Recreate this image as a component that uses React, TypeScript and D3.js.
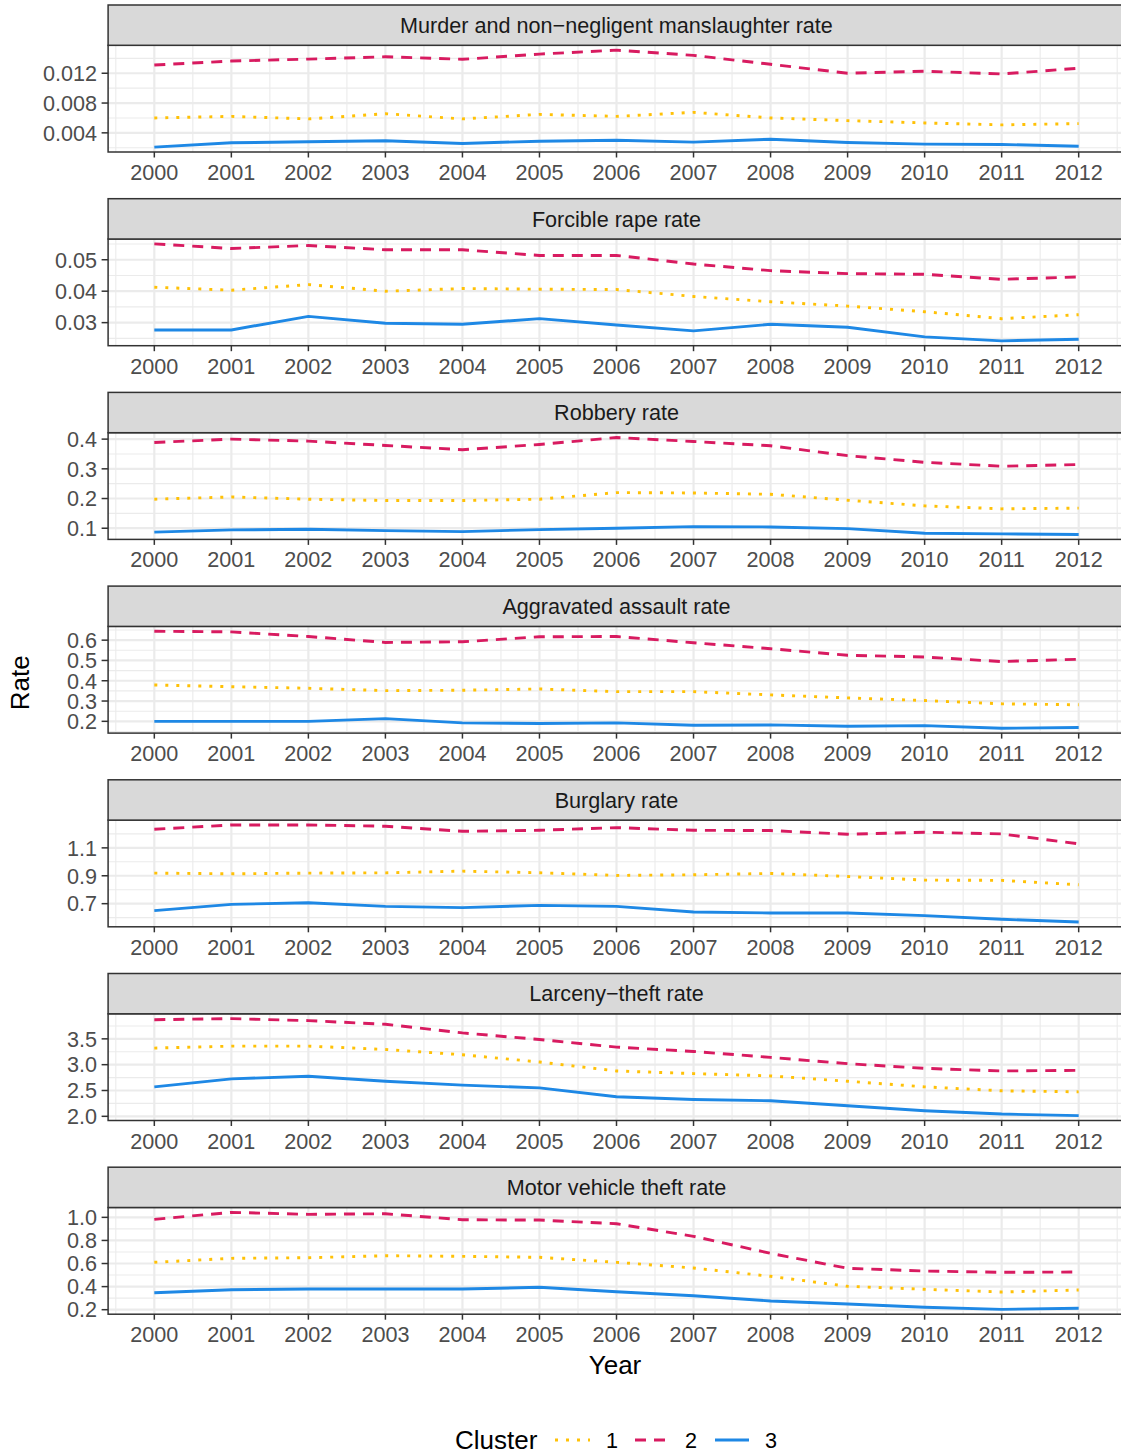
import React from "react";
import * as d3 from "d3";

const years = [2000, 2001, 2002, 2003, 2004, 2005, 2006, 2007, 2008, 2009, 2010, 2011, 2012];

const panelTitles = [
  "Murder and non\u2212negligent manslaughter rate",
  "Forcible rape rate",
  "Robbery rate",
  "Aggravated assault rate",
  "Burglary rate",
  "Larceny\u2212theft rate",
  "Motor vehicle theft rate",
];

// Murder
const murderC1 = [0.0060, 0.00621, 0.00587, 0.00657, 0.00587, 0.00648, 0.00621, 0.00675, 0.0060, 0.00564, 0.00533, 0.00507, 0.00524];
const murderC2 = [0.0131, 0.01364, 0.0139, 0.01421, 0.01387, 0.01457, 0.0151, 0.0144, 0.0132, 0.0120, 0.01227, 0.0119, 0.01267];
const murderC3 = [0.00208, 0.00267, 0.0028, 0.00293, 0.00257, 0.00288, 0.00301, 0.00275, 0.00315, 0.00271, 0.00248, 0.00244, 0.00221];
// Forcible rape
const rapeC1 = [0.04126, 0.04032, 0.0421, 0.0400, 0.04084, 0.04063, 0.04053, 0.03832, 0.03664, 0.03526, 0.03347, 0.03126, 0.03253];
const rapeC2 = [0.05505, 0.05357, 0.05452, 0.05316, 0.05316, 0.05136, 0.05136, 0.04864, 0.04653, 0.04558, 0.04536, 0.04378, 0.04453];
const rapeC3 = [0.02768, 0.02768, 0.0320, 0.02979, 0.02948, 0.03126, 0.02926, 0.02737, 0.02948, 0.02853, 0.02547, 0.02421, 0.02474];
// Robbery
const robberyC1 = [0.1977, 0.2053, 0.1977, 0.1933, 0.1933, 0.1977, 0.2200, 0.2187, 0.2143, 0.1943, 0.1753, 0.1653, 0.1677];
const robberyC2 = [0.3887, 0.4000, 0.3933, 0.3787, 0.3643, 0.3820, 0.4053, 0.3920, 0.3777, 0.3443, 0.3220, 0.3087, 0.3143];
const robberyC3 = [0.0867, 0.0943, 0.0967, 0.0920, 0.0887, 0.0953, 0.1000, 0.1053, 0.1043, 0.0987, 0.0833, 0.0810, 0.0787];
// Aggravated assault
const assaultC1 = [0.379, 0.3707, 0.3629, 0.3512, 0.3532, 0.3595, 0.3463, 0.3463, 0.3302, 0.3156, 0.3024, 0.2863, 0.2815];
const assaultC2 = [0.6439, 0.6407, 0.618, 0.5888, 0.592, 0.6166, 0.618, 0.5873, 0.558, 0.5254, 0.517, 0.4946, 0.5059];
const assaultC3 = [0.2, 0.2, 0.2, 0.2132, 0.1922, 0.189, 0.1922, 0.1805, 0.1824, 0.1756, 0.179, 0.1659, 0.1693];
// Burglary
const burglaryC1 = [0.919, 0.914, 0.919, 0.921, 0.9333, 0.9214, 0.9024, 0.907, 0.9167, 0.895, 0.869, 0.867, 0.8357];
const burglaryC2 = [1.2333, 1.2643, 1.2643, 1.255, 1.219, 1.2262, 1.245, 1.226, 1.224, 1.198, 1.212, 1.2, 1.1286];
const burglaryC3 = [0.65, 0.695, 0.707, 0.681, 0.6714, 0.688, 0.681, 0.6405, 0.6333, 0.6333, 0.614, 0.588, 0.569];
// Larceny-theft
const larcenyC1 = [3.321, 3.359, 3.359, 3.295, 3.192, 3.051, 2.878, 2.827, 2.782, 2.679, 2.571, 2.494, 2.474];
const larcenyC2 = [3.871, 3.891, 3.853, 3.782, 3.615, 3.487, 3.34, 3.256, 3.141, 3.019, 2.929, 2.878, 2.891];
const larcenyC3 = [2.571, 2.725, 2.776, 2.679, 2.603, 2.551, 2.378, 2.327, 2.301, 2.205, 2.109, 2.044, 2.013];
// Motor vehicle theft
const motorC1 = [0.6104, 0.645, 0.6502, 0.6675, 0.6623, 0.6537, 0.6104, 0.561, 0.4892, 0.4026, 0.3766, 0.3532, 0.3706];
const motorC2 = [0.9827, 1.0433, 1.026, 1.0312, 0.979, 0.9766, 0.9446, 0.8355, 0.6883, 0.5584, 0.5351, 0.5238, 0.5264];
const motorC3 = [0.3472, 0.3732, 0.3792, 0.3792, 0.3792, 0.3939, 0.3558, 0.3212, 0.2753, 0.2494, 0.2208, 0.203, 0.2121];

const murderTicks = [0.004, 0.008, 0.012];
const murderTickLabels = ["0.004", "0.008", "0.012"];
const rapeTicks = [0.03, 0.04, 0.05];
const rapeTickLabels = ["0.03", "0.04", "0.05"];
const robberyTicks = [0.1, 0.2, 0.3, 0.4];
const robberyTickLabels = ["0.1", "0.2", "0.3", "0.4"];
const assaultTicks = [0.2, 0.3, 0.4, 0.5, 0.6];
const assaultTickLabels = ["0.2", "0.3", "0.4", "0.5", "0.6"];
const burglaryTicks = [0.7, 0.9, 1.1];
const burglaryTickLabels = ["0.7", "0.9", "1.1"];
const larcenyTicks = [2.0, 2.5, 3.0, 3.5];
const larcenyTickLabels = ["2.0", "2.5", "3.0", "3.5"];
const motorTicks = [0.2, 0.4, 0.6, 0.8, 1.0];
const motorTickLabels = ["0.2", "0.4", "0.6", "0.8", "1.0"];

const clusterLabels = ["1", "2", "3"];
const clusterColors = ["#FFC107", "#D81B60", "#1E88E5"];
const clusterDash = ["3,8", "11,8", null];

const panels = [
  { title: panelTitles[0], series: [murderC1, murderC2, murderC3], ticks: murderTicks, labels: murderTickLabels },
  { title: panelTitles[1], series: [rapeC1, rapeC2, rapeC3], ticks: rapeTicks, labels: rapeTickLabels },
  { title: panelTitles[2], series: [robberyC1, robberyC2, robberyC3], ticks: robberyTicks, labels: robberyTickLabels },
  { title: panelTitles[3], series: [assaultC1, assaultC2, assaultC3], ticks: assaultTicks, labels: assaultTickLabels },
  { title: panelTitles[4], series: [burglaryC1, burglaryC2, burglaryC3], ticks: burglaryTicks, labels: burglaryTickLabels },
  { title: panelTitles[5], series: [larcenyC1, larcenyC2, larcenyC3], ticks: larcenyTicks, labels: larcenyTickLabels },
  { title: panelTitles[6], series: [motorC1, motorC2, motorC3], ticks: motorTicks, labels: motorTickLabels },
];

const W = 1121;
const H = 1456;
const FONT = "'Liberation Sans', Arial, Helvetica, sans-serif";
const SMALL = 21.6;
const BIG = 26;
const LEFT = 108.1;
const RIGHT = 1124.9;
const FIRST_STRIP = 5;
const PERIOD = 193.7;
const STRIP_H = 40.3;
const PANEL_BOTTOM_OFF = 147;
const GRID = "#EBEBEB";
const DARK = "#333333";

const x = d3.scaleLinear().domain([1999.4, 2012.6]).range([LEFT, RIGHT]);
const xMinor = d3.range(1999.5, 2012.6, 1);

function Panel({ p, i }: { p: any; i: number }) {
  const sTop = FIRST_STRIP + i * PERIOD;
  const pTop = sTop + STRIP_H;
  const pBot = sTop + PANEL_BOTTOM_OFF;
  const all = p.series.flat();
  const [mn, mx] = d3.extent(all) as [number, number];
  const pad = (mx - mn) * 0.05;
  const y = d3.scaleLinear().domain([mn - pad, mx + pad]).range([pBot, pTop]);
  const step = p.ticks[1] - p.ticks[0];
  const minors: number[] = [];
  for (let k = -1; k < p.ticks.length; k++) {
    const v = p.ticks[0] + step * k + step / 2;
    if (v >= mn - pad && v <= mx + pad) minors.push(v);
  }
  const line = d3
    .line<number>()
    .x((_, j) => x(years[j]))
    .y((d) => y(d));
  const clipId = `clip${i}`;
  return (
    <g>
      <defs>
        <clipPath id={clipId}>
          <rect x={LEFT} y={pTop} width={RIGHT - LEFT} height={pBot - pTop} />
        </clipPath>
      </defs>
      <rect x={LEFT} y={pTop} width={RIGHT - LEFT} height={pBot - pTop} fill="#FFFFFF" />
      <g clipPath={`url(#${clipId})`}>
        {minors.map((v, k) => (
          <line key={"ym" + k} x1={LEFT} x2={RIGHT} y1={y(v)} y2={y(v)} stroke={GRID} strokeWidth={1.1} />
        ))}
        {xMinor.map((v, k) => (
          <line key={"xm" + k} x1={x(v)} x2={x(v)} y1={pTop} y2={pBot} stroke={GRID} strokeWidth={1.1} />
        ))}
        {p.ticks.map((v: number, k: number) => (
          <line key={"yM" + k} x1={LEFT} x2={RIGHT} y1={y(v)} y2={y(v)} stroke={GRID} strokeWidth={2.2} />
        ))}
        {years.map((v, k) => (
          <line key={"xM" + k} x1={x(v)} x2={x(v)} y1={pTop} y2={pBot} stroke={GRID} strokeWidth={2.2} />
        ))}
        {p.series.map((s: number[], k: number) => (
          <path
            key={"s" + k}
            d={line(s) || ""}
            fill="none"
            stroke={clusterColors[k]}
            strokeWidth={2.9}
            strokeDasharray={clusterDash[k] || undefined}
          />
        ))}
      </g>
      <rect x={LEFT} y={pTop} width={RIGHT - LEFT} height={pBot - pTop} fill="none" stroke={DARK} strokeWidth={1.5} />
      <rect x={LEFT} y={sTop} width={RIGHT - LEFT} height={STRIP_H} fill="#D9D9D9" stroke={DARK} strokeWidth={1.5} />
      <text
        x={(LEFT + RIGHT) / 2}
        y={sTop + STRIP_H / 2}
        dy="0.36em"
        textAnchor="middle"
        fontSize={SMALL}
        fill="#1A1A1A"
        fontFamily={FONT}
      >
        {p.title}
      </text>
      {p.ticks.map((v: number, k: number) => (
        <g key={"yt" + k}>
          <line x1={LEFT - 6.5} x2={LEFT} y1={y(v)} y2={y(v)} stroke={DARK} strokeWidth={1.5} />
          <text x={LEFT - 11} y={y(v)} dy="0.36em" textAnchor="end" fontSize={SMALL} fill="#4D4D4D" fontFamily={FONT}>
            {p.labels[k]}
          </text>
        </g>
      ))}
      {years.map((v, k) => (
        <g key={"xt" + k}>
          <line x1={x(v)} x2={x(v)} y1={pBot} y2={pBot + 5.5} stroke={DARK} strokeWidth={1.5} />
          <text x={x(v)} y={pBot + 28} textAnchor="middle" fontSize={SMALL} fill="#4D4D4D" fontFamily={FONT}>
            {v}
          </text>
        </g>
      ))}
    </g>
  );
}

export default function App() {
  const legendKeys = [
    { x0: 555, x1: 590, tx: 612 },
    { x0: 635, x1: 668, tx: 691 },
    { x0: 715, x1: 749, tx: 771 },
  ];
  const legendY = 1440;
  return (
    <svg
      width={W}
      height={H}
      style={{ position: "absolute", left: 0, top: 0, background: "#FFFFFF" }}
      fontFamily={FONT}
    >
      <rect x={0} y={0} width={W} height={H} fill="#FFFFFF" />
      {panels.map((p, i) => (
        <Panel key={i} p={p} i={i} />
      ))}
      <text
        transform={`translate(29,${(FIRST_STRIP + 6 * PERIOD + PANEL_BOTTOM_OFF + FIRST_STRIP + STRIP_H) / 2 + 3}) rotate(-90)`}
        textAnchor="middle"
        fontSize={BIG}
        fill="#000000"
        fontFamily={FONT}
      >
        Rate
      </text>
      <text x={615} y={1374} textAnchor="middle" fontSize={BIG} fill="#000000" fontFamily={FONT}>
        Year
      </text>
      <text x={455} y={legendY + 9} fontSize={BIG} fill="#000000" fontFamily={FONT}>
        Cluster
      </text>
      {legendKeys.map((k, i) => (
        <g key={"lg" + i}>
          <line
            x1={k.x0}
            x2={k.x1}
            y1={legendY}
            y2={legendY}
            stroke={clusterColors[i]}
            strokeWidth={2.9}
            strokeDasharray={clusterDash[i] || undefined}
          />
          <text x={k.tx} y={legendY + 7.5} textAnchor="middle" fontSize={SMALL} fill="#000000" fontFamily={FONT}>
            {clusterLabels[i]}
          </text>
        </g>
      ))}
    </svg>
  );
}
